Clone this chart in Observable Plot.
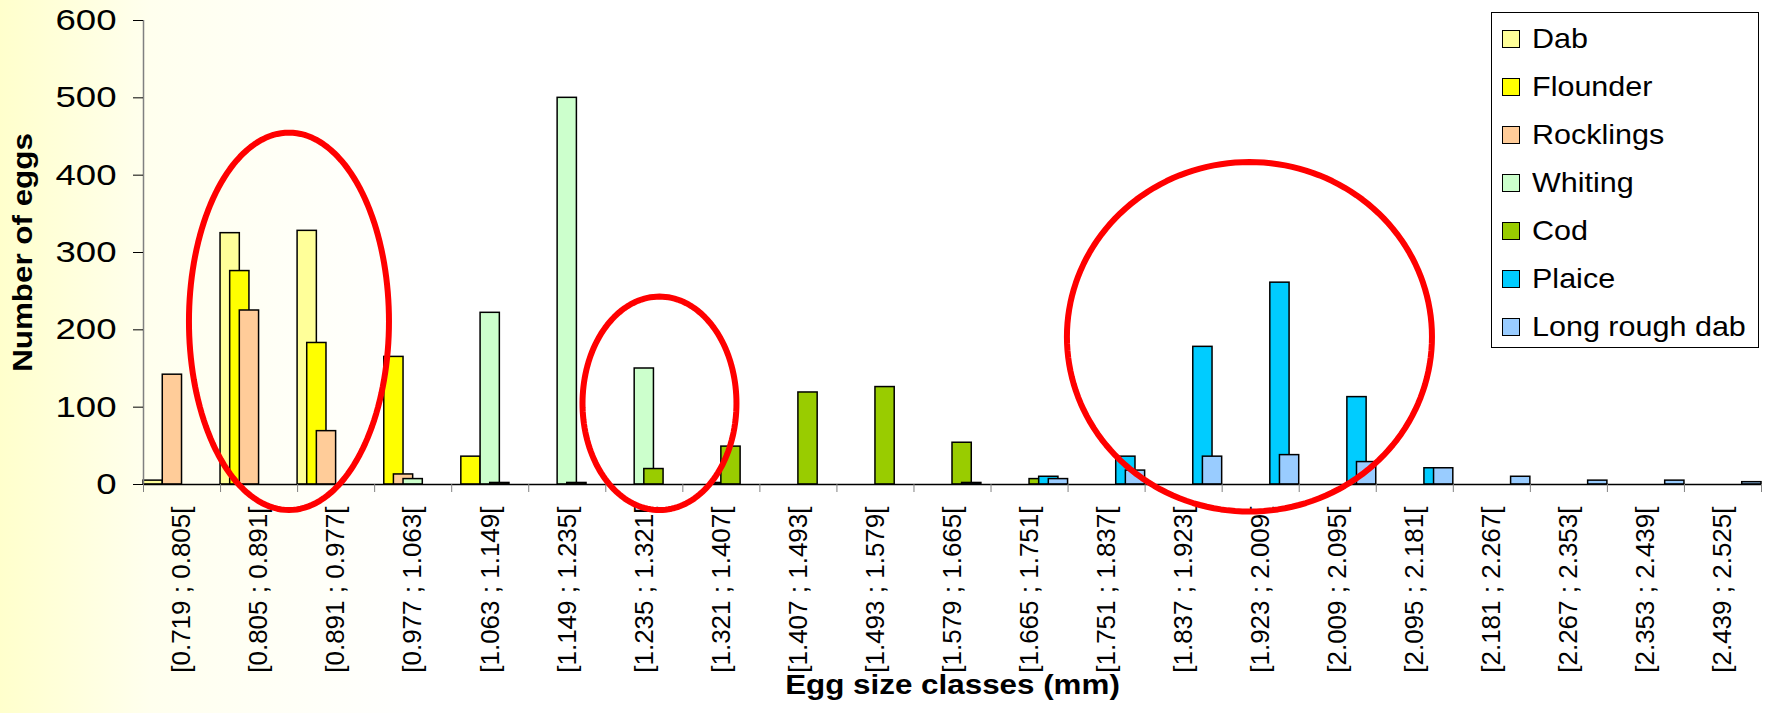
<!DOCTYPE html>
<html>
<head>
<meta charset="utf-8">
<script src="https://cdn.jsdelivr.net/npm/d3@7"></script>
<script src="https://cdn.jsdelivr.net/npm/@observablehq/plot@0.6"></script>
<style>
  html, body { margin: 0; padding: 0; }
  body {
    width: 1768px; height: 713px; overflow: hidden;
    background: linear-gradient(to right, #FFFFCC 0px, #FFFFEE 150px, #FFFFFF 420px);
    font-family: "Liberation Sans", Arial, sans-serif;
  }
  #wrap { position: relative; width: 1768px; height: 713px; }
  #legend {
    position: absolute; left: 1491px; top: 12px; width: 266px; height: 334px;
    border: 1px solid #000; background: #fff;
  }
  .item { position: absolute; left: 10px; height: 30px; display: flex; align-items: center; }
  .sw { display: inline-block; width: 16px; height: 16px; border: 1.5px solid #000; }
  .lab { display: inline-block; margin-left: 12px; font-size: 28px; color: #000;
         transform: scaleX(1.09); transform-origin: left center; white-space: nowrap; }
</style>
</head>
<body>
<div id="wrap"><div id="legend"></div></div>
<script>
// ---- Data ----
const categories = [
  "[0.719 ; 0.805[", "[0.805 ; 0.891[", "[0.891 ; 0.977[", "[0.977 ; 1.063[",
  "[1.063 ; 1.149[", "[1.149 ; 1.235[", "[1.235 ; 1.321[", "[1.321 ; 1.407[",
  "[1.407 ; 1.493[", "[1.493 ; 1.579[", "[1.579 ; 1.665[", "[1.665 ; 1.751[",
  "[1.751 ; 1.837[", "[1.837 ; 1.923[", "[1.923 ; 2.009[", "[2.009 ; 2.095[",
  "[2.095 ; 2.181[", "[2.181 ; 2.267[", "[2.267 ; 2.353[", "[2.353 ; 2.439[",
  "[2.439 ; 2.525["
];
const seriesNames = ["Dab", "Flounder", "Rocklings", "Whiting", "Cod", "Plaice", "Long rough dab"];
const seriesColors = ["#FFFF99", "#FFFF00", "#FFCC99", "#CCFFCC", "#99CC00", "#00CCFF", "#99CCFF"];

const dab          = [5, 325, 328, 0, 0, 0, 0, 0, 0, 0, 0, 0, 0, 0, 0, 0, 0, 0, 0, 0, 0];
const flounder     = [0, 276, 183, 165, 36, 0, 0, 0, 0, 0, 0, 0, 0, 0, 0, 0, 0, 0, 0, 0, 0];
const rocklings    = [142, 225, 69, 13, 0, 0, 0, 0, 0, 0, 0, 0, 0, 0, 0, 0, 0, 0, 0, 0, 0];
const whiting      = [0, 0, 0, 7, 222, 500, 150, 2, 0, 0, 0, 0, 0, 0, 0, 0, 0, 0, 0, 0, 0];
const cod          = [0, 0, 0, 0, 2, 2, 20, 49, 119, 126, 54, 7, 0, 0, 0, 0, 0, 0, 0, 0, 0];
const plaice       = [0, 0, 0, 0, 0, 0, 0, 0, 0, 0, 2, 10, 36, 178, 261, 113, 21, 0, 0, 0, 0];
const longRoughDab = [0, 0, 0, 0, 0, 0, 0, 0, 0, 0, 0, 7, 18, 36, 38, 29, 21, 10, 5, 5, 3];
const seriesValues = [dab, flounder, rocklings, whiting, cod, plaice, longRoughDab];

const yTicks = [0, 100, 200, 300, 400, 500, 600];
const xTitle = "Egg size classes (mm)";
const yTitle = "Number of eggs";

// Highlight ellipses (annotation): centre in category units / egg counts, radii likewise
const ellipseCx = [1.888, 6.697, 14.354];
const ellipseCy = [211, 105, 191];
const ellipseRx = [1.298, 0.999, 2.369];
const ellipseRy = [244, 138, 226];

// ---- Build table: clustered columns with 50% overlap, no gap ----
const nSeries = seriesNames.length;
const step = 1 / (nSeries + 1);
const barW = 2 * step;
const table = [];
seriesNames.forEach((name, i) => {
  seriesValues[i].forEach((v, k) => {
    if (v > 0) table.push({series: name, category: categories[k], value: v,
                           x1: k + i * step, x2: k + i * step + barW});
  });
});

const ellipsePts = [];
ellipseCx.forEach((cx, j) => {
  for (let t = 0; t <= 160; t++) {
    const a = 2 * Math.PI * t / 160;
    ellipsePts.push({id: j, x: cx + ellipseRx[j] * Math.cos(a), y: ellipseCy[j] + ellipseRy[j] * Math.sin(a)});
  }
});

const chart = Plot.plot({
  width: 1768, height: 713,
  marginLeft: 143, marginRight: 7, marginTop: 20, marginBottom: 229,
  style: {background: "transparent", fontFamily: "'Liberation Sans', Arial, sans-serif", color: "#000", overflow: "visible"},
  x: {domain: [0, categories.length], label: null},
  y: {domain: [0, 600], label: null},
  color: {domain: seriesNames, range: seriesColors},
  marks: [
    Plot.rect(table, {x1: "x1", x2: "x2", y1: 0, y2: "value", fill: "series", stroke: "#000", strokeWidth: 1.5}),
    Plot.ruleX([0], {y1: 0, y2: 600, stroke: "#808080", strokeWidth: 1.5}),
    Plot.ruleY([0], {stroke: "#000", strokeWidth: 1.5}),
    Plot.axisY({ticks: yTicks, tickSize: 10, tickPadding: 17, fontSize: 30, label: null}),
    Plot.axisX({ticks: d3.range(0, categories.length + 1), tickSize: 8, tickFormat: () => "", label: null, stroke: "#808080"}),
    Plot.axisX({ticks: categories.map((c, k) => k + 0.5), tickFormat: v => categories[Math.floor(v)],
                tickRotate: -90, tickSize: 0, tickPadding: 22, fontSize: 26, label: null}),
    Plot.text([xTitle], {text: d => d, frameAnchor: "bottom", dy: 209, fontSize: 28, fontWeight: "bold"}),
    Plot.text([yTitle], {text: d => d, frameAnchor: "left", textAnchor: "middle", dx: -120, rotate: -90, fontSize: 28, fontWeight: "bold"}),
    Plot.line(ellipsePts, {x: "x", y: "y", z: "id", stroke: "#FF0000", strokeWidth: 6, curve: "linear"})
  ]
});

const wrap = document.getElementById("wrap");
wrap.insertBefore(chart, wrap.firstChild);

// widen text slightly to match the original's rendering
function stretch(nodes, f) {
  nodes.forEach(t => {
    const L = t.getComputedTextLength();
    if (L > 0) { t.setAttribute("textLength", L * f); t.setAttribute("lengthAdjust", "spacingAndGlyphs"); }
  });
}
stretch(chart.querySelectorAll('g[aria-label="y-axis tick label"] text'), 1.22);
stretch([...chart.querySelectorAll('text')].filter(t => t.textContent === xTitle), 1.12);
stretch([...chart.querySelectorAll('text')].filter(t => t.textContent === yTitle), 1.12);

// legend
const legend = document.getElementById("legend");
seriesNames.forEach((name, i) => {
  const row = document.createElement("div");
  row.className = "item";
  row.style.top = (26 + 48 * i - 15) + "px";
  const sw = document.createElement("span");
  sw.className = "sw";
  sw.style.background = seriesColors[i];
  const lab = document.createElement("span");
  lab.className = "lab";
  lab.textContent = name;
  row.appendChild(sw); row.appendChild(lab);
  legend.appendChild(row);
});
</script>
</body>
</html>
